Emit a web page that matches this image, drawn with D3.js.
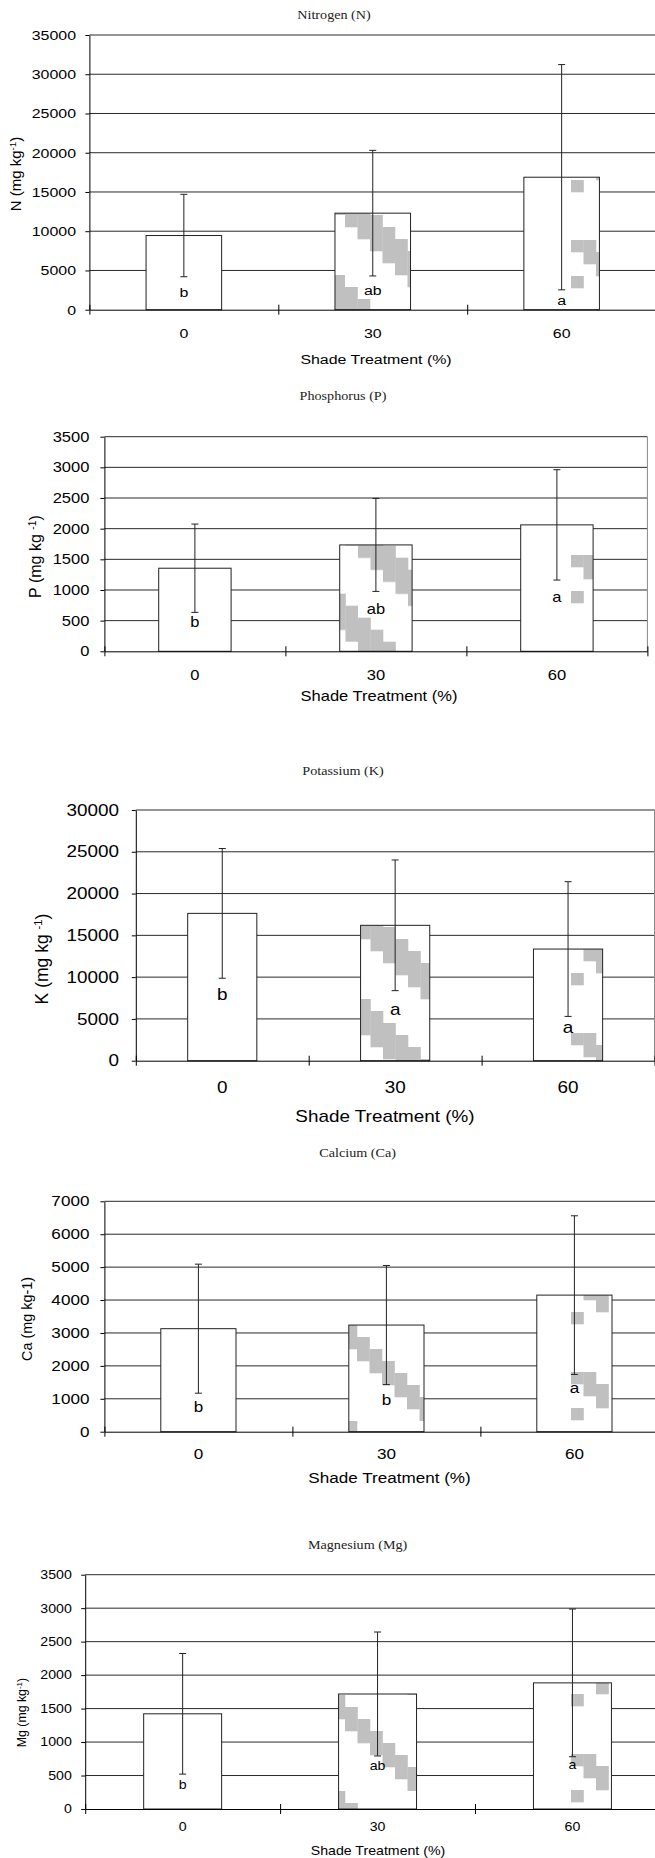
<!DOCTYPE html>
<html>
<head>
<meta charset="utf-8">
<script src="https://cdn.jsdelivr.net/npm/d3@7"></script>
<style>
	body { margin: 0; background: #fff; }
	svg { display: block; }
	text { font-family: "Liberation Sans", Arial, sans-serif; fill: #000; }
	.ttl { font-family: "Liberation Serif", "Times New Roman", serif; fill: #222; }
</style>
</head>
<body>
<svg id="chart" width="655" height="1858"></svg>
<script>
// shade treatments (%)
var shade = ["0", "30", "60"];
var barFill = ["plain", "dense", "sparse"];

// Nitrogen
var nMean = [9450, 12300, 16880];
var nErr = [5250, 8000, 14350];
var nLetters = ["b", "ab", "a"];
var nLetterAt = [2200, 2500, 1250];
var nTicks = [0, 5000, 10000, 15000, 20000, 25000, 30000, 35000];
var nYLabel = ["N (mg kg", "-1", ")"];

// Phosphorus
var pMean = [1355, 1735, 2062];
var pErr = [720, 758, 900];
var pLetters = ["b", "ab", "a"];
var pLetterAt = [470, 690, 890];
var pTicks = [0, 500, 1000, 1500, 2000, 2500, 3000, 3500];
var pYLabel = ["P (mg kg ", "-1", ")"];

// Potassium
var kMean = [17630, 16200, 13360];
var kErr = [7760, 7820, 8060];
var kLetters = ["b", "a", "a"];
var kLetterAt = [7900, 6100, 3950];
var kTicks = [0, 5000, 10000, 15000, 20000, 25000, 30000];
var kYLabel = ["K (mg kg ", "-1", ")"];

// Calcium
var caMean = [3130, 3240, 4150];
var caErr = [1960, 1810, 2410];
var caLetters = ["b", "b", "a"];
var caLetterAt = [740, 980, 1340];
var caTicks = [0, 1000, 2000, 3000, 4000, 5000, 6000, 7000];
var caYLabel = ["Ca (mg kg-1)"];

// Magnesium
var mgMean = [1422, 1718, 1884];
var mgErr = [901, 926, 1103];
var mgLetters = ["b", "ab", "a"];
var mgLetterAt = [360, 640, 660];
var mgTicks = [0, 500, 1000, 1500, 2000, 2500, 3000, 3500];
var mgYLabel = ["Mg (mg kg", "-1", ")"];

var xTitle = "Shade Treatment (%)";
var sx = 1.18; // the source picture is stretched sideways

var panels = [
	{ title: "Nitrogen (N)", mean: nMean, err: nErr, letters: nLetters, letterAt: nLetterAt, ticks: nTicks, yLabel: nYLabel,
		left: 89.4, step: 188.9, top: 35, bottom: 309.7, titleX: 334, titleY: 15, yTitleX: 16, yTitleY: 174,
		xTitleX: 376, xTitleY: 359, xLabY: 333, fs: 13.5, yfs: 15, pad: 13.4,
		dense: { x: 345, y: 215, w: 3 }, sparseY: 240 },
	{ title: "Phosphorus (P)", mean: pMean, err: pErr, letters: pLetters, letterAt: pLetterAt, ticks: pTicks, yLabel: pYLabel,
		left: 104.4, step: 181.0, top: 436.7, bottom: 651.3, titleX: 343, titleY: 396, yTitleX: 35.5, yTitleY: 556.5,
		xTitleX: 379, xTitleY: 696, xLabY: 675, fs: 14, yfs: 16, pad: 15,
		dense: { x: 358, y: 545.7, w: 3 }, sparseY: 555 },
	{ title: "Potassium (K)", mean: kMean, err: kErr, letters: kLetters, letterAt: kLetterAt, ticks: kTicks, yLabel: kYLabel,
		left: 135.8, step: 172.9, top: 810, bottom: 1060.7, titleX: 343, titleY: 771, yTitleX: 41.8, yTitleY: 959,
		xTitleX: 385, xTitleY: 1116.7, xLabY: 1087.7, fs: 16, yfs: 17.5, pad: 16.8,
		dense: { x: 358, y: 927, w: 3 }, sparseY: 1033 },
	{ title: "Calcium (Ca)", mean: caMean, err: caErr, letters: caLetters, letterAt: caLetterAt, ticks: caTicks, yLabel: caYLabel,
		left: 104.4, step: 188, top: 1201.3, bottom: 1431.7, titleX: 357.6, titleY: 1152.7, yTitleX: 27.2, yTitleY: 1319,
		xTitleX: 389.5, xTitleY: 1478, xLabY: 1454, fs: 14.5, yfs: 14.4, pad: 15,
		dense: { x: 332, y: 1325, w: 2 }, sparseY: 1372 },
	{ title: "Magnesium (Mg)", mean: mgMean, err: mgErr, letters: mgLetters, letterAt: mgLetterAt, ticks: mgTicks, yLabel: mgYLabel,
		left: 85.2, step: 194.9, top: 1574.7, bottom: 1809, titleX: 357.6, titleY: 1545, yTitleX: 21.7, yTitleY: 1712.5,
		xTitleX: 378, xTitleY: 1850.7, xLabY: 1827, fs: 12, yfs: 12.3, pad: 13.4,
		dense: { x: 320, y: 1695, w: 2 }, sparseY: 1754 }
];

var svg = d3.select("#chart");
var defs = svg.append("defs");
var grey = "#c0c0c0";
var cellW = 12.5, cellH = 12;

panels.forEach(drawPanel);

function makePatterns(p, i) {
	// diagonal staircase of grey squares, as the original fill was rendered
	var dense = defs.append("pattern")
		.attr("id", "dense" + i)
		.attr("patternUnits", "userSpaceOnUse")
		.attr("x", p.dense.x).attr("y", p.dense.y)
		.attr("width", cellW * 8).attr("height", cellH * 8);
	for (var r = 0; r < 8; r++) {
		for (var k = 0; k < p.dense.w; k++) {
			dense.append("rect")
				.attr("x", ((r + k) % 8) * cellW).attr("y", r * cellH)
				.attr("width", cellW + 0.3).attr("height", cellH + 0.3)
				.attr("fill", grey);
		}
	}
	var sparse = defs.append("pattern")
		.attr("id", "sparse" + i)
		.attr("patternUnits", "userSpaceOnUse")
		.attr("x", 571).attr("y", p.sparseY)
		.attr("width", cellW * 8).attr("height", cellH * 8);
	var rows = [[0, 1], [1, 2], [2], [0]];
	rows.forEach(function(cols, r) {
		cols.forEach(function(c) {
			sparse.append("rect")
				.attr("x", c * cellW).attr("y", r * cellH)
				.attr("width", cellW + 0.3).attr("height", cellH + 0.3)
				.attr("fill", grey);
		});
	});
}

function drawPanel(p, i) {
	makePatterns(p, i);
	var right = p.left + 3 * p.step;
	var ymax = p.ticks[p.ticks.length - 1];

	var x = d3.scaleBand().domain(shade)
		.range([p.left, right])
		.paddingInner(0.6).paddingOuter(0.3);
	var y = d3.scaleLinear().domain([0, ymax]).range([p.bottom, p.top]);
	var bnd = d3.scaleLinear().domain([0, 3]).range([p.left, right]);

	var g = svg.append("g");

	// title
	g.append("text")
		.attr("class", "ttl")
		.attr("transform", "translate(" + p.titleX + "," + (p.titleY + 4) + ") scale(" + sx + ",1)")
		.attr("text-anchor", "middle")
		.style("font-size", "12px")
		.text(p.title);

	// grid
	g.selectAll(".grid")
		.data(p.ticks.filter(function(t) { return t > 0; }))
		.enter().append("line")
		.attr("x1", p.left).attr("x2", right)
		.attr("y1", function(d) { return y(d); })
		.attr("y2", function(d) { return y(d); })
		.attr("stroke", "#2a2a2a").attr("stroke-width", 1);

	g.append("line")
		.attr("x1", right).attr("x2", right)
		.attr("y1", p.top).attr("y2", p.bottom)
		.attr("stroke", "#888");

	// bars
	var bars = g.selectAll(".bar")
		.data(p.mean)
		.enter().append("g");

	bars.append("rect")
		.attr("x", function(d, j) { return x(shade[j]); })
		.attr("y", function(d) { return y(d); })
		.attr("width", x.bandwidth())
		.attr("height", function(d) { return p.bottom - y(d); })
		.attr("fill", "#fff");

	bars.filter(function(d, j) { return barFill[j] !== "plain"; })
		.append("rect")
		.attr("x", function(d) { return x(shade[p.mean.indexOf(d)]); })
		.attr("y", function(d) { return y(d); })
		.attr("width", x.bandwidth())
		.attr("height", function(d) { return p.bottom - y(d); })
		.attr("fill", function(d) { return "url(#" + barFill[p.mean.indexOf(d)] + i + ")"; });

	bars.append("rect")
		.attr("x", function(d, j) { return x(shade[j]); })
		.attr("y", function(d) { return y(d); })
		.attr("width", x.bandwidth())
		.attr("height", function(d) { return p.bottom - y(d); })
		.attr("fill", "none")
		.attr("stroke", "#222").attr("stroke-width", 1);

	// error bars
	var eb = g.selectAll(".err")
		.data(p.mean)
		.enter().append("g")
		.attr("stroke", "#222").attr("stroke-width", 1);
	function cx(j) { return x(shade[j]) + x.bandwidth() / 2; }
	eb.append("line")
		.attr("x1", function(d, j) { return cx(j); })
		.attr("x2", function(d, j) { return cx(j); })
		.attr("y1", function(d, j) { return y(d + p.err[j]); })
		.attr("y2", function(d, j) { return y(d - p.err[j]); });
	[1, -1].forEach(function(sgn) {
		eb.append("line")
			.attr("x1", function(d, j) { return cx(j) - 3.5; })
			.attr("x2", function(d, j) { return cx(j) + 3.5; })
			.attr("y1", function(d, j) { return y(d + sgn * p.err[j]); })
			.attr("y2", function(d, j) { return y(d + sgn * p.err[j]); });
	});

	// significance letters
	g.selectAll(".letter")
		.data(p.letters)
		.enter().append("text")
		.attr("transform", function(d, j) {
			return "translate(" + cx(j) + "," + y(p.letterAt[j]) + ") scale(" + sx + ",1)";
		})
		.attr("dy", "0.35em")
		.attr("text-anchor", "middle")
		.style("font-size", p.fs + "px")
		.text(function(d) { return d; });

	// y axis
	var ya = g.append("g")
		.attr("transform", "translate(" + p.left + ",0)")
		.call(d3.axisLeft(y).tickValues(p.ticks).tickSize(4).tickSizeOuter(0).tickFormat(d3.format("d")));
	ya.select(".domain").attr("stroke", "#000");
	ya.selectAll(".tick line").attr("stroke", "#000");
	ya.selectAll(".tick text")
		.attr("x", null)
		.attr("transform", "translate(" + (-p.pad) + ",0) scale(" + sx + ",1)")
		.attr("fill", "#000")
		.style("font-size", p.fs + "px")
		.style("font-family", "'Liberation Sans', Arial, sans-serif");

	// x axis: category labels
	var xa = g.append("g")
		.attr("transform", "translate(0," + p.bottom + ")")
		.call(d3.axisBottom(x).tickSize(0).tickSizeOuter(0));
	xa.select(".domain").remove();
	xa.selectAll(".tick text")
		.attr("y", p.xLabY - p.bottom)
		.attr("dy", "0.35em")
		.attr("transform", "scale(" + sx + ",1)")
		.attr("fill", "#000")
		.style("font-size", p.fs + "px")
		.style("font-family", "'Liberation Sans', Arial, sans-serif");
	xa.selectAll(".tick").each(function() {
		// keep the stretched label centred on its band
		var t = d3.select(this).select("text");
		var tx = d3.select(this).attr("transform");
		var px = +tx.match(/translate\(([^,]+),/)[1];
		t.attr("x", 0);
		d3.select(this).attr("transform", "translate(" + px + ",0)");
	});

	// x axis: line and boundary ticks crossing it
	var xb = g.append("g")
		.attr("transform", "translate(0," + p.bottom + ")")
		.call(d3.axisBottom(bnd).tickValues([0, 1, 2, 3]).tickSize(5).tickSizeOuter(0).tickFormat(""));
	xb.select(".domain").attr("stroke", "#000");
	xb.selectAll(".tick line").attr("y1", -5).attr("stroke", "#000");

	// axis titles
	g.append("text")
		.attr("transform", "translate(" + p.xTitleX + "," + p.xTitleY + ") scale(" + sx + ",1)")
		.attr("dy", "0.35em")
		.attr("text-anchor", "middle")
		.style("font-size", p.fs + "px")
		.text(xTitle);

	var yt = g.append("text")
		.attr("transform", "translate(" + p.yTitleX + "," + p.yTitleY + ") rotate(-90)")
		.attr("dy", "0.35em")
		.attr("text-anchor", "middle")
		.style("font-size", p.yfs + "px");
	yt.append("tspan").text(p.yLabel[0]);
	if (p.yLabel.length > 1) {
		yt.append("tspan")
			.attr("baseline-shift", "super")
			.style("font-size", "65%")
			.text(p.yLabel[1]);
		yt.append("tspan").text(p.yLabel[2]);
	}
}
</script>
</body>
</html>
